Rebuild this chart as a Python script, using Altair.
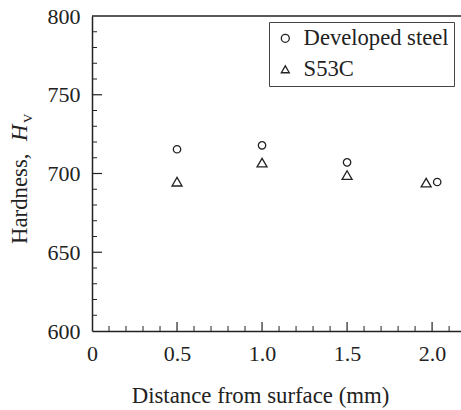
import altair as alt
import pandas as pd

# Data
dev_x = [0.5, 1.0, 1.5, 2.03]
dev_y = [715.4, 717.9, 707.1, 694.6]
s53_x = [0.5, 1.0, 1.5, 1.965]
s53_y = [694.8, 706.9, 699.0, 694.2]
series_names = ["Developed steel", "S53C"]

x_major = [0.5, 1.0, 1.5, 2.0]
x_minor = [0.1, 0.2, 0.3, 0.4, 0.6, 0.7, 0.8, 0.9, 1.1, 1.2, 1.3, 1.4,
           1.6, 1.7, 1.8, 1.9, 2.1]
x_labels = [0, 0.5, 1.0, 1.5, 2.0]
y_major = [650, 700, 750]
y_minor = [610, 620, 630, 640, 660, 670, 680, 690, 710, 720, 730, 740,
           760, 770, 780, 790]
y_labels = [600, 650, 700, 750, 800]

FONT = "'Liberation Serif', 'Times New Roman', serif"
INK = "#222222"
W, H = 369, 315

dev = pd.DataFrame({"x": dev_x, "y": dev_y, "series": [series_names[0]] * len(dev_x)})
s53 = pd.DataFrame({"x": s53_x, "y": s53_y, "series": [series_names[1]] * len(s53_x)})

xscale = alt.Scale(domain=[0, 2.17], nice=False, zero=False)
yscale = alt.Scale(domain=[600, 800], nice=False, zero=False)

xaxis = alt.Axis(values=x_labels, ticks=False, tickSize=0, grid=False, labelFlush=False,
                 labelExpr="datum.value == 0 ? '0' : format(datum.value, '.1f')",
                 labelPadding=12, labelFontSize=22, labelFont=FONT, labelColor=INK,
                 domainColor=INK, domainWidth=1.5,
                 title="Distance from surface (mm)", titleFont=FONT, titleFontSize=22.8,
                 titleFontWeight="normal", titleColor=INK,
                 titleX=168, titleY=71, titleBaseline="alphabetic", titleAlign="center")
yaxis = alt.Axis(values=y_labels, ticks=False, tickSize=0, grid=False, labelFlush=False,
                 labelPadding=12, labelFontSize=22, labelFont=FONT, labelColor=INK,
                 domainColor=INK, domainWidth=1.5, title="")

shape_enc = alt.Shape("series:N",
                      scale=alt.Scale(domain=series_names, range=["circle", "triangle-up"]),
                      legend=alt.Legend(title=None, orient="none", legendX=177, legendY=6,
                                        padding=5, rowPadding=8, strokeColor="#444444",
                                        fillColor="white", labelFont=FONT, labelFontSize=22.6,
                                        labelColor=INK, symbolSize=64, symbolStrokeWidth=1.3,
                                        symbolStrokeColor=INK, symbolOffset=0, labelOffset=7))


def pts_layer(df, size):
    return alt.Chart(df).mark_point(filled=False, strokeWidth=1.3, color=INK, opacity=1, size=size).encode(
        x=alt.X("x:Q", scale=xscale, axis=xaxis),
        y=alt.Y("y:Q", scale=yscale, axis=yaxis),
        shape=shape_enc,
    )


p_dev = pts_layer(dev, 55)
p_s53 = pts_layer(s53, 100)

ymaj = alt.Chart(pd.DataFrame({"y": y_major})).mark_rule(color=INK, strokeWidth=1.2).encode(
    y=alt.Y("y:Q", scale=yscale, axis=yaxis), x=alt.value(0), x2=alt.value(10))
ymin = alt.Chart(pd.DataFrame({"y": y_minor})).mark_rule(color=INK, strokeWidth=1.0).encode(
    y=alt.Y("y:Q", scale=yscale, axis=yaxis), x=alt.value(0), x2=alt.value(5))
xmaj = alt.Chart(pd.DataFrame({"x": x_major})).mark_rule(color=INK, strokeWidth=1.2).encode(
    x=alt.X("x:Q", scale=xscale, axis=xaxis), y=alt.value(H), y2=alt.value(H - 9))
xmin = alt.Chart(pd.DataFrame({"x": x_minor})).mark_rule(color=INK, strokeWidth=1.0).encode(
    x=alt.X("x:Q", scale=xscale, axis=xaxis), y=alt.value(H), y2=alt.value(H - 5))

top = alt.Chart(pd.DataFrame({"a": [0]})).mark_rule(color=INK, strokeWidth=1.5).encode(
    x=alt.value(0), x2=alt.value(W), y=alt.value(0))

t1 = alt.Chart(pd.DataFrame({"a": [0]})).mark_text(
    text="Hardness,", angle=270, align="left", baseline="alphabetic",
    font=FONT, fontSize=22.8, color=INK).encode(x=alt.value(-65), y=alt.value(228))
t2 = alt.Chart(pd.DataFrame({"a": [0]})).mark_text(
    text="H", angle=270, align="left", baseline="alphabetic", fontStyle="italic",
    font=FONT, fontSize=22.8, color=INK).encode(x=alt.value(-65), y=alt.value(125))
t3 = alt.Chart(pd.DataFrame({"a": [0]})).mark_text(
    text="V", angle=270, align="left", baseline="alphabetic",
    font=FONT, fontSize=13, color=INK).encode(x=alt.value(-60), y=alt.value(107))

chart = alt.layer(p_dev, p_s53, ymaj, ymin, xmaj, xmin, top, t1, t2, t3).properties(
    width=W, height=H,
    background="white",
    autosize=alt.AutoSizeParams(type="none"),
    padding={"left": 92, "top": 16, "right": 0, "bottom": 79},
).configure(font=FONT).configure_view(stroke=None).configure_axis(
    labelFont=FONT, titleFont=FONT).configure_legend(labelFont=FONT)

chart.save("out.html", embed_options={"renderer": "svg", "actions": False})
